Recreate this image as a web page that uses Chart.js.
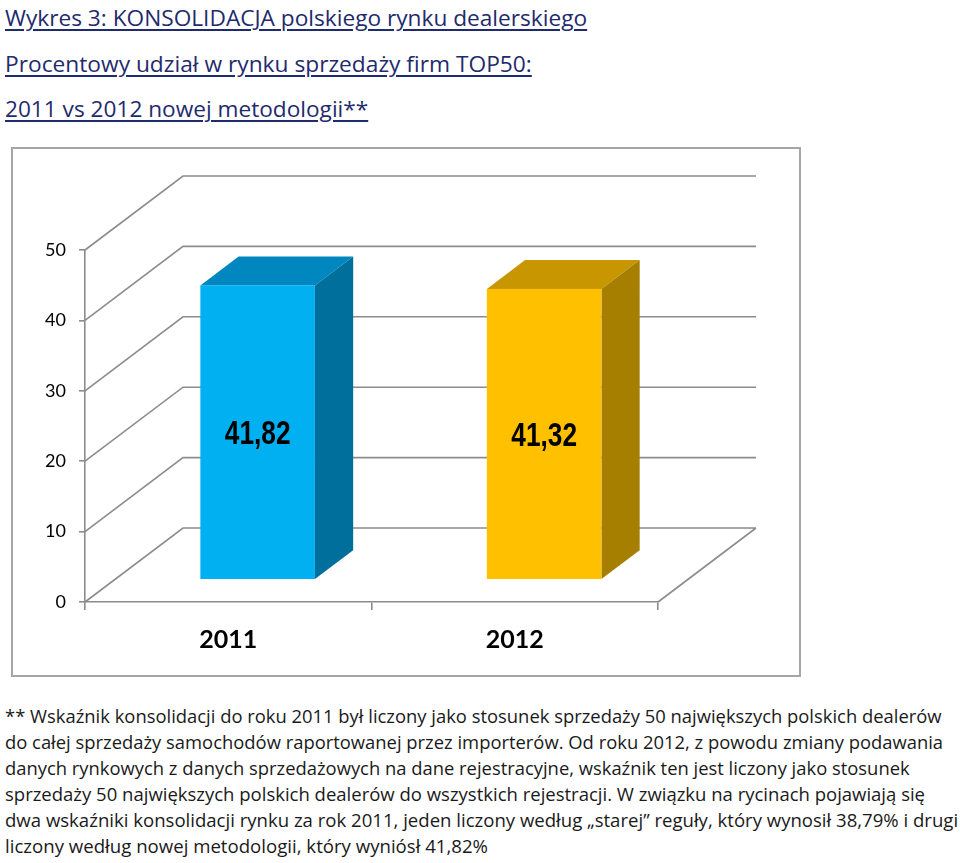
<!DOCTYPE html>
<html>
<head>
<meta charset="utf-8">
<script src="https://cdn.jsdelivr.net/npm/chart.js@4.4.1/dist/chart.umd.min.js"></script>
<style>
  body { margin: 0; background: #fff; width: 960px; height: 863px; position: relative; overflow: hidden; font-family: 'Open Sans', sans-serif; }
  .title { position: absolute; left: 5px; color: #1f2b6c; font-size: 22px; font-weight: 500; white-space: nowrap; text-decoration: underline; text-decoration-thickness: 2px; text-underline-offset: 3px; transform-origin: 0 0; }
  .note { position: absolute; left: 5px; font-size: 18px; color: #1a1a1a; white-space: nowrap; transform-origin: 0 0; }
  #frame { position: absolute; left: 11px; top: 147px; width: 790px; height: 530px; border: 2px solid #a6a6a6; box-sizing: border-box; }
  #wrap { position: absolute; left: 12px; top: 148px; width: 788px; height: 528px; }
</style>
</head>
<body>
<div class="title" data-w="582" style="top:2px">Wykres 3: KONSOLIDACJA polskiego rynku dealerskiego</div>
<div class="title" data-w="527" style="top:48px">Procentowy udział w rynku sprzedaży firm TOP50:</div>
<div class="title" data-w="363" style="top:93px">2011 vs 2012 nowej metodologii**</div>

<div id="frame"></div>
<div id="wrap"><canvas id="myChart" width="788" height="528"></canvas></div>

<div class="note" data-w="937" style="top:704px">** Wskaźnik konsolidacji do roku 2011 był liczony jako stosunek sprzedaży 50 największych polskich dealerów</div>
<div class="note" data-w="938" style="top:730px">do całej sprzedaży samochodów raportowanej przez importerów. Od roku 2012, z powodu zmiany podawania</div>
<div class="note" data-w="905" style="top:756px">danych rynkowych z danych sprzedażowych na dane rejestracyjne, wskaźnik ten jest liczony jako stosunek</div>
<div class="note" data-w="920" style="top:782px">sprzedaży 50 największych polskich dealerów do wszystkich rejestracji. W związku na rycinach pojawiają się</div>
<div class="note" data-w="953" style="top:808px">dwa wskaźniki konsolidacji rynku za rok 2011, jeden liczony według „starej” reguły, który wynosił 38,79% i drugi</div>
<div class="note" data-w="483" style="top:834px">liczony według nowej metodologii, który wyniósł 41,82%</div>

<script>
// chart data
const categories = ['2011', '2012'];
const shares = [41.82, 41.32];
const shareLabels = ['41,82', '41,32'];
const yTicks = [0, 10, 20, 30, 40, 50];

// front / top / side colours of each bar
const frontColors = ['#00b0f0', '#ffc000'];
const topColors = ['#0087c0', '#c89600'];
const sideColors = ['#006f9b', '#a67f00'];

const GRID = '#8c8c8c';
// 3D depth of the floor and where the bars sit inside it
const DX = 98, DY = -74, F0 = 0.3, F1 = 0.69;

// stretch every text line to the width it has in the original
document.querySelectorAll('[data-w]').forEach((el) => {
    const target = +el.getAttribute('data-w');
    el.style.transform = `scaleX(${target / el.scrollWidth})`;
});

// side wall, back wall and floor lines
const walls = {
    id: 'walls',
    beforeDatasetsDraw(chart) {
        const { ctx, chartArea } = chart;
        const { left, right, bottom } = chartArea;
        const y = chart.scales.y;
        ctx.save();
        ctx.strokeStyle = GRID;
        ctx.lineWidth = 1.6;
        ctx.beginPath();
        yTicks.forEach((v) => {
            const py = y.getPixelForValue(v);
            ctx.moveTo(left, py);
            ctx.lineTo(left + DX, py + DY);
            ctx.lineTo(right + DX, py + DY);
        });
        ctx.moveTo(right, bottom);
        ctx.lineTo(right + DX, bottom + DY);
        ctx.stroke();
        ctx.restore();
    }
};

// draw the bars as boxes, using the positions Chart.js computed
const boxes = {
    id: 'boxes',
    afterDatasetsDraw(chart) {
        const { ctx } = chart;
        const y = chart.scales.y;
        const ddx = (F1 - F0) * DX, ddy = (F1 - F0) * DY;
        chart.getDatasetMeta(0).data.forEach((bar, i) => {
            const w = bar.width;
            const x0 = bar.x - w / 2 + F0 * DX, x1 = x0 + w;
            const yt = bar.y + F0 * DY, yb = bar.base + F0 * DY;

            ctx.save();
            ctx.fillStyle = topColors[i];
            ctx.beginPath();
            ctx.moveTo(x0, yt);
            ctx.lineTo(x0 + ddx, yt + ddy);
            ctx.lineTo(x1 + ddx, yt + ddy);
            ctx.lineTo(x1, yt);
            ctx.closePath();
            ctx.fill();

            ctx.fillStyle = sideColors[i];
            ctx.beginPath();
            ctx.moveTo(x1, yt);
            ctx.lineTo(x1 + ddx, yt + ddy);
            ctx.lineTo(x1 + ddx, yb + ddy);
            ctx.lineTo(x1, yb);
            ctx.closePath();
            ctx.fill();

            ctx.fillStyle = frontColors[i];
            ctx.fillRect(x0, yt, w, yb - yt);

            // narrow bold value label in the middle of the front face
            const cx = x0 + w / 2;
            const cy = y.getPixelForValue(shares[i] / 2) + F0 * DY + 2;
            ctx.translate(cx, cy);
            ctx.scale(0.82, 1.05);
            ctx.fillStyle = '#000';
            ctx.font = "bold 32px 'Liberation Sans', Arial, sans-serif";
            ctx.textAlign = 'center';
            ctx.textBaseline = 'middle';
            ctx.fillText(shareLabels[i], 0, 0);
            ctx.restore();
        });
    }
};

const ctx = document.getElementById('myChart').getContext('2d');

const myChart = new Chart(ctx, {
    type: 'bar',
    data: {
        labels: categories,
        datasets: [{
            data: shares,
            backgroundColor: 'rgba(0,0,0,0)',
            borderWidth: 0,
            barPercentage: 0.4,
            categoryPercentage: 1,
        }]
    },
    options: {
        responsive: false,
        animation: false,
        layout: {
            padding: { top: 102, right: 142, left: 0, bottom: 0 }
        },
        plugins: {
            legend: { display: false },
            tooltip: { enabled: false },
        },
        scales: {
            x: {
                grid: { offset: true, drawOnChartArea: false, color: GRID, lineWidth: 1.6, tickLength: 8 },
                border: { color: GRID, width: 1.6 },
                ticks: { color: '#000', padding: 15, font: { family: 'Lato', weight: 'bold', size: 25 } },
                afterFit: (s) => { s.height = 74; },
            },
            y: {
                min: 0,
                max: 50,
                afterBuildTicks: (s) => { s.ticks = yTicks.map((v) => ({ value: v })); },
                grid: { drawOnChartArea: false, color: GRID, lineWidth: 1.6, tickLength: 6 },
                border: { color: GRID, width: 1.6 },
                ticks: { color: '#000', padding: 13, font: { family: 'Lato', size: 18 } },
                afterFit: (s) => { s.width = 73; },
            }
        }
    },
    plugins: [walls, boxes]
});
</script>
</body>
</html>
